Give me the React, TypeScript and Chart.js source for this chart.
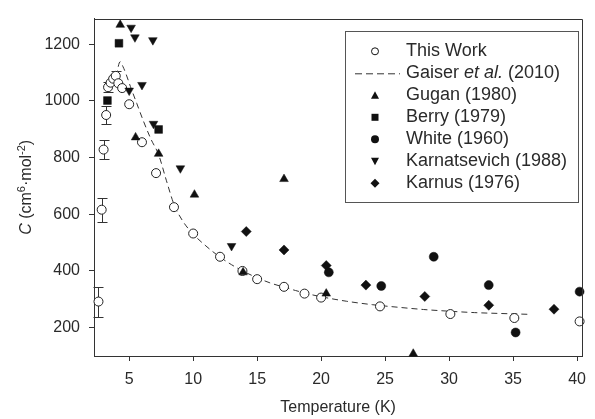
import React, { useEffect, useRef } from "react";
import { Chart, registerables } from "chart.js";

Chart.register(...registerables);

// ---- Data ----
const thisWorkT = [2.6, 2.85, 3.0, 3.2, 3.35, 3.55, 3.75, 3.95, 4.15, 4.45, 5.0, 6.0, 7.1, 8.5, 10.0, 12.1, 13.85, 15.0, 17.1, 18.7, 20.0, 24.6, 30.1, 35.1, 40.2];
const thisWorkC = [292, 616, 828, 950, 1048, 1064, 1078, 1088, 1062, 1045, 988, 854, 745, 625, 532, 450, 400, 371, 344, 320, 306, 275, 248, 234, 222];
const thisWorkErr = [53, 43, 33, 31, 18, 0, 0, 18, 0, 0, 0, 0, 0, 0, 0, 0, 0, 0, 0, 0, 0, 0, 0, 0, 0];

const gaiserT = [3.95, 4.1, 4.3, 4.5, 4.75, 5.1, 5.6, 6.1, 6.7, 7.3, 7.9, 8.5, 9.2, 10.0, 11.0, 12.0, 13.0, 14.0, 15.0, 16.0, 17.0, 18.0, 19.0, 20.0, 22.0, 24.0, 26.0, 28.0, 30.0, 32.0, 34.0, 36.2];
const gaiserC = [1050, 1110, 1138, 1122, 1095, 1050, 990, 930, 865, 810, 720, 635, 575, 530, 488, 452, 422, 397, 376, 358, 344, 331, 319, 309, 293, 281, 272, 264, 258, 253, 250, 247];

const guganT = [4.3, 5.5, 7.3, 10.1, 13.9, 17.1, 20.4, 27.2];
const guganC = [1268, 871, 813, 669, 395, 724, 320, 108];

const berryT = [3.3, 4.2, 7.3];
const berryC = [1001, 1203, 899];

const whiteT = [20.6, 24.7, 28.8, 33.1, 35.2, 40.2];
const whiteC = [395, 347, 450, 350, 183, 327];

const karnatT = [5.0, 5.15, 5.45, 6.0, 6.85, 6.9, 9.0, 13.0];
const karnatC = [1036, 1258, 1224, 1056, 1214, 919, 762, 488];

const karnusT = [14.15, 17.1, 20.4, 23.5, 28.1, 33.1, 38.2];
const karnusC = [539, 474, 419, 350, 310, 279, 265];

const xTicks = [5, 10, 15, 20, 25, 30, 35, 40];
const yTicks = [200, 400, 600, 800, 1000, 1200];

const legendLabels = ["This Work", "Gaiser et al. (2010)", "Gugan (1980)", "Berry (1979)", "White (1960)", "Karnatsevich (1988)", "Karnus (1976)"];

const FONT = "'Liberation Sans', Arial, Helvetica, sans-serif";
const INK = "#111";
const TEXT = "#2a2a2a";

const pts = (xs: number[], ys: number[]) => xs.map((x, i) => ({ x, y: ys[i] }));

const extrasPlugin = {
  id: "extras",
  beforeDatasetsDraw(chart: any) {
    const { ctx, scales } = chart;
    const x = scales.x, y = scales.y;
    ctx.save();
    ctx.strokeStyle = "#333";
    ctx.lineWidth = 1;
    thisWorkT.forEach((t, i) => {
      const e = thisWorkErr[i];
      if (!e) return;
      const px = Math.round(x.getPixelForValue(t)) + 0.5;
      const top = Math.round(y.getPixelForValue(thisWorkC[i] + e)) + 0.5;
      const bot = Math.round(y.getPixelForValue(thisWorkC[i] - e)) + 0.5;
      ctx.beginPath();
      ctx.moveTo(px, top);
      ctx.lineTo(px, bot);
      ctx.moveTo(px - 5, top);
      ctx.lineTo(px + 5, top);
      ctx.moveTo(px - 5, bot);
      ctx.lineTo(px + 5, bot);
      ctx.stroke();
    });
    ctx.restore();
  },
  afterDraw(chart: any) {
    const { ctx, chartArea } = chart;
    ctx.save();
    // frame top & right
    ctx.strokeStyle = "#333";
    ctx.lineWidth = 1;
    ctx.beginPath();
    ctx.moveTo(Math.round(chartArea.left) + 0.5, Math.round(chartArea.top) + 0.5);
    ctx.lineTo(Math.round(chartArea.right) + 0.5, Math.round(chartArea.top) + 0.5);
    ctx.lineTo(Math.round(chartArea.right) + 0.5, Math.round(chartArea.bottom) + 0.5);
    ctx.stroke();

    // legend
    const lx = 345, ly = 31, lw = 233, lh = 171;
    ctx.strokeStyle = "#555";
    ctx.strokeRect(lx + 0.5, ly + 0.5, lw, lh);
    const rowY0 = 51.3, rowH = 22, symX = 375, textX = 406;
    const LF = `18px ${FONT}`;
    ctx.font = LF;
    ctx.textBaseline = "middle";
    legendLabels.forEach((lab, i) => {
      const cy = rowY0 + i * rowH;
      ctx.fillStyle = INK;
      ctx.strokeStyle = INK;
      ctx.lineWidth = 1;
      ctx.setLineDash([]);
      ctx.beginPath();
      if (i === 0) {
        ctx.arc(symX, cy, 3.5, 0, Math.PI * 2);
        ctx.fillStyle = "#fff";
        ctx.fill();
        ctx.stroke();
      } else if (i === 1) {
        ctx.strokeStyle = "#333";
        ctx.setLineDash([7, 4]);
        ctx.moveTo(355, cy + 0.5);
        ctx.lineTo(400, cy + 0.5);
        ctx.stroke();
        ctx.setLineDash([]);
      } else if (i === 2) {
        ctx.moveTo(symX, cy - 4);
        ctx.lineTo(symX + 4, cy + 3.5);
        ctx.lineTo(symX - 4, cy + 3.5);
        ctx.closePath();
        ctx.fill();
      } else if (i === 3) {
        ctx.rect(symX - 3.5, cy - 3.5, 7, 7);
        ctx.fill();
      } else if (i === 4) {
        ctx.arc(symX, cy, 4, 0, Math.PI * 2);
        ctx.fill();
      } else if (i === 5) {
        ctx.moveTo(symX, cy + 4);
        ctx.lineTo(symX + 4, cy - 3.5);
        ctx.lineTo(symX - 4, cy - 3.5);
        ctx.closePath();
        ctx.fill();
      } else {
        ctx.moveTo(symX, cy - 4.5);
        ctx.lineTo(symX + 4.5, cy);
        ctx.lineTo(symX, cy + 4.5);
        ctx.lineTo(symX - 4.5, cy);
        ctx.closePath();
        ctx.fill();
      }
      ctx.fillStyle = TEXT;
      ctx.textAlign = "left";
      if (i === 1) {
        let xx = textX;
        const segs: [string, boolean][] = [["Gaiser ", false], ["et al.", true], [" (2010)", false]];
        segs.forEach(([s, it]) => {
          ctx.font = `${it ? "italic " : ""}18px ${FONT}`;
          ctx.fillText(s, xx, cy);
          xx += ctx.measureText(s).width;
        });
        ctx.font = LF;
      } else {
        ctx.fillText(lab, textX, cy);
      }
    });

    // x title
    ctx.fillStyle = TEXT;
    ctx.font = `16px ${FONT}`;
    ctx.textAlign = "center";
    ctx.textBaseline = "middle";
    ctx.fillText("Temperature (K)", (chartArea.left + chartArea.right) / 2, 408);

    // y title (rotated)
    ctx.translate(25, (chartArea.top + chartArea.bottom) / 2);
    ctx.rotate(-Math.PI / 2);
    const segs: [string, string, number][] = [
      ["C", `italic 16px ${FONT}`, 0],
      [" (cm", `16px ${FONT}`, 0],
      ["6", `11px ${FONT}`, -6],
      ["\u00B7mol", `16px ${FONT}`, 0],
      ["-2", `11px ${FONT}`, -6],
      [")", `16px ${FONT}`, 0],
    ];
    let total = 0;
    segs.forEach(([s, f]) => {
      ctx.font = f;
      total += ctx.measureText(s).width;
    });
    let xx = -total / 2;
    ctx.textAlign = "left";
    ctx.textBaseline = "alphabetic";
    segs.forEach(([s, f, dy]) => {
      ctx.font = f;
      ctx.fillText(s, xx, 6 + dy);
      xx += ctx.measureText(s).width;
    });
    ctx.restore();
  },
};

export default function App() {
  const ref = useRef<HTMLCanvasElement | null>(null);
  useEffect(() => {
    document.body.style.margin = "0";
    const canvas = ref.current!;
    const chart = new Chart(canvas, {
      type: "scatter",
      data: {
        datasets: [
          {
            label: "Gaiser et al. (2010)",
            data: pts(gaiserT, gaiserC),
            showLine: true,
            borderColor: "#333",
            borderWidth: 1,
            borderDash: [6, 4],
            pointRadius: 0,
            cubicInterpolationMode: "monotone",
            fill: false,
            order: 10,
          } as any,
          {
            label: "This Work",
            data: pts(thisWorkT, thisWorkC),
            pointStyle: "circle",
            pointRadius: 4.5,
            pointBackgroundColor: "#fff",
            pointBorderColor: "#222",
            pointBorderWidth: 1,
            order: 5,
          },
          {
            label: "Gugan (1980)",
            data: pts(guganT, guganC),
            pointStyle: "triangle",
            pointRadius: 5,
            pointBackgroundColor: INK,
            pointBorderColor: INK,
            pointBorderWidth: 0.5,
            order: 1,
          },
          {
            label: "Berry (1979)",
            data: pts(berryT, berryC),
            pointStyle: "rect",
            pointRadius: 5.5,
            pointBackgroundColor: INK,
            pointBorderColor: INK,
            pointBorderWidth: 0.5,
            order: 2,
          },
          {
            label: "White (1960)",
            data: pts(whiteT, whiteC),
            pointStyle: "circle",
            pointRadius: 4.5,
            pointBackgroundColor: INK,
            pointBorderColor: INK,
            pointBorderWidth: 0.5,
            order: 3,
          },
          {
            label: "Karnatsevich (1988)",
            data: pts(karnatT, karnatC),
            pointStyle: "triangle",
            rotation: 180,
            pointRotation: 180,
            pointRadius: 5,
            pointBackgroundColor: INK,
            pointBorderColor: INK,
            pointBorderWidth: 0.5,
            order: 4,
          } as any,
          {
            label: "Karnus (1976)",
            data: pts(karnusT, karnusC),
            pointStyle: "rectRot",
            pointRadius: 5,
            pointBackgroundColor: INK,
            pointBorderColor: INK,
            pointBorderWidth: 0.5,
            order: 4,
          },
        ],
      },
      options: {
        animation: false,
        responsive: false,
        devicePixelRatio: 1,
        clip: false as any,
        layout: { padding: { top: 9, right: 4, left: 0, bottom: 0 } },
        plugins: { legend: { display: false }, tooltip: { enabled: false } },
        scales: {
          x: {
            type: "linear",
            min: 2.25,
            max: 40.4,
            afterFit: (s: any) => { s.height = 63; },
            afterBuildTicks: (s: any) => { s.ticks = xTicks.map((v) => ({ value: v })); },
            grid: { display: true, drawOnChartArea: false, drawTicks: true, tickLength: 5, color: "#333" },
            border: { display: true, color: "#333", width: 1 },
            ticks: { color: TEXT, font: { family: FONT, size: 16 }, padding: 9, maxRotation: 0, callback: (v: any) => String(v) },
          },
          y: {
            type: "linear",
            min: 100,
            max: 1290,
            afterFit: (s: any) => { s.width = 94; },
            afterBuildTicks: (s: any) => { s.ticks = yTicks.map((v) => ({ value: v })); },
            grid: { display: true, drawOnChartArea: false, drawTicks: true, tickLength: 5, color: "#333" },
            border: { display: true, color: "#333", width: 1 },
            ticks: { color: TEXT, font: { family: FONT, size: 16 }, padding: 9, callback: (v: any) => String(v) },
          },
        },
      },
      plugins: [extrasPlugin],
    });
    return () => chart.destroy();
  }, []);
  return (
    <div style={{ width: 595, height: 419 }}>
      <canvas ref={ref} width={595} height={419} style={{ display: "block" }} />
    </div>
  );
}
